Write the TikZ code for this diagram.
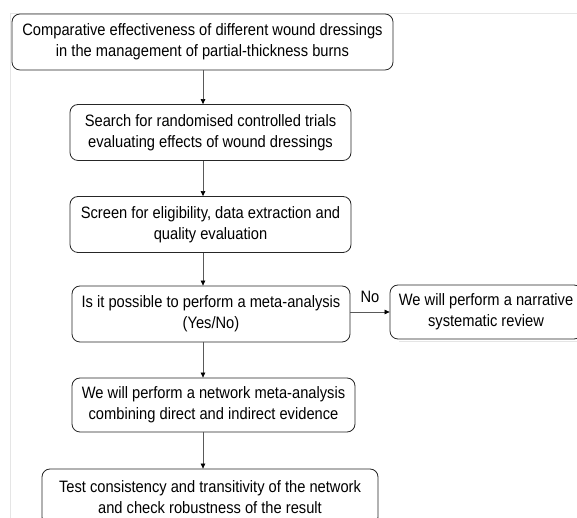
\documentclass[tikz,border=0pt]{standalone}
\usepackage{fontspec}
\setmainfont{Liberation Sans}[FakeStretch=0.89]
\usepackage{tikz}
\usetikzlibrary{positioning,arrows.meta}

\tikzset{
  stagebox/.style={draw=black!85, line width=0.8pt, rounded corners=8pt,
    align=center, minimum height=56pt, inner sep=2pt,
    font=\fontsize{16.5}{21}\selectfont},
  flowarrow/.style={draw=black!65, line width=0.6pt,
    -{Triangle[length=5pt,width=4.5pt,color=black]}},
  tablerule/.style={draw=black!10, line width=0.7pt}
}

\begin{document}
\begin{tikzpicture}[x=1pt,y=1pt]
  \useasboundingbox (0,0) rectangle (577,518);
  \clip (0,0) rectangle (577,518);
  \fill[white] (0,0) rectangle (577,518);
  % faint table borders of the screenshot
  \draw[tablerule] (10,505) -- (577,505);
  \draw[tablerule] (10,505) -- (10,0);
  \draw[tablerule] (399,177) -- (577,177);
  % stages
  \node[stagebox, minimum width=381pt] (topic) at (202.5,476)
    {Comparative effectiveness of different wound dressings\\in the management of partial-thickness burns};
  \node[stagebox, minimum width=281pt] (search) at (210.5,385.5)
    {Search for randomised controlled trials\\evaluating effects of wound dressings};
  \node[stagebox, minimum width=281pt] (screen) at (210.5,293.5)
    {Screen for eligibility, data extraction and\\quality evaluation};
  \node[stagebox, minimum width=278pt] (possible) at (211,204)
    {Is it possible to perform a meta-analysis\\(Yes/No)};
  \node[stagebox, minimum width=192pt, minimum height=54pt] (narrative) at (486,206)
    {We will perform a narrative\\systematic review};
  \node[stagebox, minimum width=283pt, minimum height=54pt] (network) at (213.5,113)
    {We will perform a network meta-analysis\\combining direct and indirect evidence};
  \node[stagebox, minimum width=336pt] (robust) at (210,21)
    {Test consistency and transitivity of the network\\and check robustness of the result};
  \node[font=\fontsize{16.5}{21}\selectfont] (nolabel) at (370,221) {No};
  % main axis of the arrows
  \coordinate (axis) at (203,0);
  \draw[flowarrow] (topic.south -| axis) -- (search.north -| axis);
  \draw[flowarrow] (search.south -| axis) -- (screen.north -| axis);
  \draw[flowarrow] (screen.south -| axis) -- (possible.north -| axis);
  \draw[flowarrow] (possible.south -| axis) -- (network.north -| axis);
  \draw[flowarrow] (network.south -| axis) -- (robust.north -| axis);
  \draw[flowarrow] (possible.east |- narrative.west) -- (narrative.west);
\end{tikzpicture}
\end{document}
